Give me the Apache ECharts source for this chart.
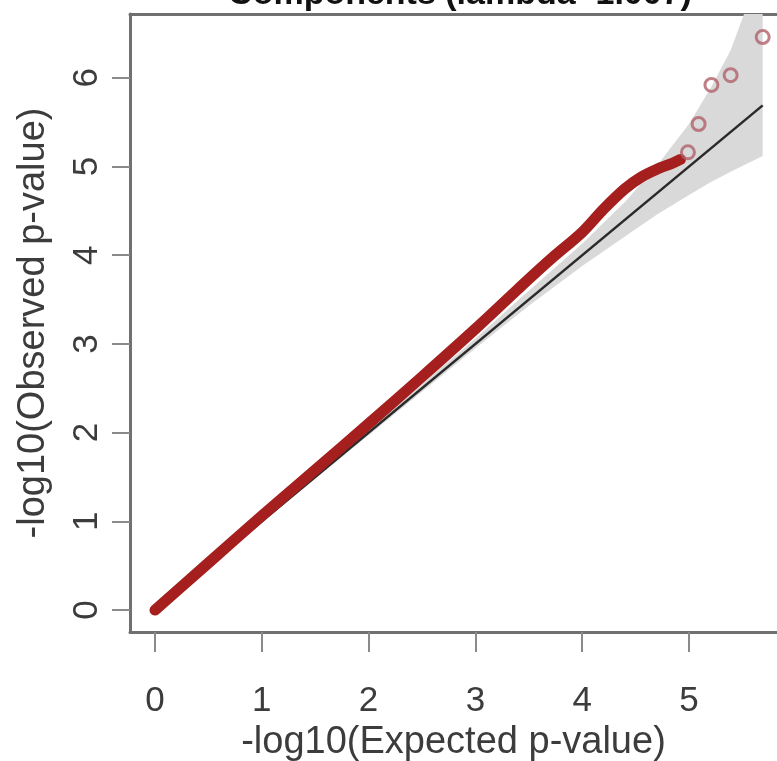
<!DOCTYPE html>
<html>
<head>
<meta charset="utf-8">
<script src="https://cdn.jsdelivr.net/npm/echarts@6/dist/echarts.min.js"></script>
<style>
  html, body { margin: 0; padding: 0; background: #fff; }
  #chart { width: 777px; height: 761px; }
</style>
</head>
<body>
<div id="chart"></div>
<script>
// Tick positions on both axes
const xTicks = [0, 1, 2, 3, 4, 5];
const yTicks = [0, 1, 2, 3, 4, 5, 6];

// Dense body of the QQ cloud (expected vs observed -log10 p)
const bandExpected = [0, 0.5, 1, 1.5, 2, 2.5, 3, 3.4, 3.7, 4.0, 4.2, 4.4, 4.55, 4.7, 4.85, 4.92];
const bandObserved = [0, 0.53, 1.06, 1.58, 2.1, 2.63, 3.17, 3.62, 3.95, 4.26, 4.52, 4.75, 4.88, 4.97, 5.04, 5.08];

// Most significant individual points
const topExpected = [4.99, 5.09, 5.21, 5.39, 5.69];
const topObserved = [5.16, 5.48, 5.92, 6.03, 6.46];

// 95% confidence envelope around the null line
const ciExpected = [0, 1, 2, 3, 3.5, 4.0, 4.4, 4.7, 5.0, 5.21, 5.39, 5.69];
const ciLower    = [0, 0.99, 1.97, 2.95, 3.43, 3.88, 4.21, 4.46, 4.68, 4.83, 4.94, 5.12];
const ciUpper    = [0, 1.01, 2.03, 3.06, 3.6, 4.13, 4.6, 5.01, 5.48, 5.9, 6.31, 7.29];

// Null (expected = observed) line end points
const nullLine = [0, 5.69];

const titleText = 'Components (lambda=1.007)';
const xName = '-log10(Expected p-value)';
const yName = '-log10(Observed p-value)';

const FONT = 'Liberation Sans, Arial, sans-serif';
const BOX = { color: '#707070', width: 3 };
const X_MIN = -0.234, X_MAX = 5.824;
const chart = echarts.init(document.getElementById('chart'), null, { renderer: 'canvas' });

chart.setOption({
  animation: false,
  backgroundColor: '#ffffff',
  graphic: [{
    type: 'text',
    style: {
      x: 460, y: 12,
      text: titleText,
      font: 'bold 34px ' + FONT,
      fill: '#111',
      align: 'center',
      verticalAlign: 'bottom'
    },
    z: 100
  }],
  grid: {
    left: 130, top: 14, right: 0, bottom: 129,
    show: false,
    containLabel: false,
    outerBoundsMode: 'none'
  },
  xAxis: [{
    type: 'value',
    min: X_MIN, max: X_MAX,
    splitLine: { show: false },
    axisLine: { show: true, onZero: false, lineStyle: BOX },
    axisTick: {
      show: true, length: 20,
      customValues: xTicks,
      lineStyle: { color: '#8a8a8a', width: 2 }
    },
    axisLabel: {
      customValues: xTicks,
      margin: 52,
      fontSize: 35, fontFamily: FONT, color: '#3c3c3c'
    },
    name: xName,
    nameLocation: 'middle',
    nameGap: 90,
    nameTextStyle: { fontSize: 38, fontFamily: FONT, color: '#3c3c3c' }
  }, {
    // top edge of the frame
    type: 'value',
    position: 'top',
    min: X_MIN, max: X_MAX,
    splitLine: { show: false },
    axisLine: { show: true, onZero: false, lineStyle: BOX },
    axisTick: { show: false },
    axisLabel: { show: false }
  }],
  yAxis: {
    type: 'value',
    min: -0.248, max: 6.72,
    splitLine: { show: false },
    axisLine: { show: true, onZero: false, lineStyle: BOX },
    axisTick: {
      show: true, length: 18,
      customValues: yTicks,
      lineStyle: { color: '#8a8a8a', width: 2 }
    },
    axisLabel: {
      customValues: yTicks,
      rotate: 90,
      margin: 25,
      fontSize: 35, fontFamily: FONT, color: '#3c3c3c'
    },
    name: yName,
    nameLocation: 'middle',
    nameGap: 77,
    nameRotate: 90,
    nameTextStyle: { fontSize: 38, fontFamily: FONT, color: '#3c3c3c' }
  },
  series: [
    {
      // shaded confidence envelope
      type: 'custom',
      z: 1,
      silent: true,
      data: ciExpected.map((x, i) => [x, ciLower[i], ciUpper[i]]),
      encode: { x: 0, y: [1, 2] },
      renderItem: function (params, api) {
        if (params.dataIndex !== 0) return null;
        const pts = [];
        for (let i = 0; i < ciExpected.length; i++) pts.push(api.coord([ciExpected[i], ciUpper[i]]));
        for (let i = ciExpected.length - 1; i >= 0; i--) pts.push(api.coord([ciExpected[i], ciLower[i]]));
        const cs = params.coordSys;
        return {
          type: 'polygon',
          shape: { points: pts },
          style: { fill: '#d9d9d9', stroke: null },
          clipPath: { type: 'rect', shape: { x: cs.x, y: cs.y, width: cs.width, height: cs.height } }
        };
      }
    },
    {
      // null line
      type: 'line',
      z: 2,
      silent: true,
      symbol: 'none',
      data: nullLine.map(v => [v, v]),
      lineStyle: { color: '#2a2a2a', width: 2.5 }
    },
    {
      // dense body of observed points
      type: 'line',
      z: 3,
      silent: true,
      symbol: 'none',
      smooth: 0.3,
      data: bandExpected.map((x, i) => [x, bandObserved[i]]),
      lineStyle: { color: '#a51f1f', width: 11, cap: 'round', join: 'round' }
    },
    {
      // top individual points as open circles
      type: 'scatter',
      z: 4,
      silent: true,
      symbol: 'circle',
      symbolSize: 13,
      data: topExpected.map((x, i) => [x, topObserved[i]]),
      itemStyle: { color: 'rgba(0,0,0,0)', borderColor: '#b0606a', borderWidth: 3 }
    }
  ]
});
</script>
</body>
</html>
